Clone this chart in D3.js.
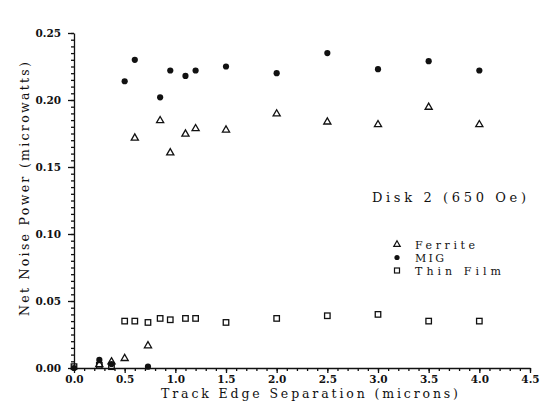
<!DOCTYPE html>
<html>
<head>
<meta charset="utf-8">
<script src="https://cdn.jsdelivr.net/npm/d3@7"></script>
<style>
  body { margin: 0; background: #fff; }
  text { font-family: "DejaVu Serif", "Liberation Serif", serif; fill: #111; }
</style>
</head>
<body>
<div id="chart"></div>
<script>
// DATA
const ferriteX = [0.25, 0.37, 0.5, 0.6, 0.73, 0.85, 0.95, 1.1, 1.2, 1.5, 2.0, 2.5, 3.0, 3.5, 4.0];
const ferriteY = [0.003, 0.005, 0.0075, 0.172, 0.017, 0.185, 0.161, 0.175, 0.179, 0.178, 0.190, 0.184, 0.182, 0.195, 0.182];

const migX = [0, 0.25, 0.37, 0.5, 0.6, 0.73, 0.85, 0.95, 1.1, 1.2, 1.5, 2.0, 2.5, 3.0, 3.5, 4.0];
const migY = [0.000, 0.006, 0.003, 0.214, 0.230, 0.001, 0.202, 0.222, 0.218, 0.222, 0.225, 0.220, 0.235, 0.223, 0.229, 0.222];

const thinX = [0, 0.25, 0.37, 0.5, 0.6, 0.73, 0.85, 0.95, 1.1, 1.2, 1.5, 2.0, 2.5, 3.0, 3.5, 4.0];
const thinY = [0.001, 0.002, 0.001, 0.035, 0.035, 0.034, 0.037, 0.036, 0.037, 0.037, 0.034, 0.037, 0.039, 0.040, 0.035, 0.035];

const xTicks = [0, 0.5, 1.0, 1.5, 2.0, 2.5, 3.0, 3.5, 4.0, 4.5];
const yTicks = [0, 0.05, 0.10, 0.15, 0.20, 0.25];
const legendLabels = ['Ferrite', 'MIG', 'Thin Film'];

// FIGURE DIMENSIONS
const FIGURE = { WIDTH: 546, HEIGHT: 405 };
const PLOT = { LEFT: 74, RIGHT: 530, TOP: 33, BOTTOM: 368 };

const x = d3.scaleLinear().domain([0, 4.5]).range([PLOT.LEFT, PLOT.RIGHT]);
const y = d3.scaleLinear().domain([0, 0.25]).range([PLOT.BOTTOM, PLOT.TOP]);

const svg = d3.select('#chart')
  .append('svg')
    .attr('width', FIGURE.WIDTH)
    .attr('height', FIGURE.HEIGHT);

// minor ticks
const xAxisMinor = d3.axisBottom(x).tickValues(d3.range(0, 4.501, 0.1)).tickSize(3).tickFormat('');
const yAxisMinor = d3.axisLeft(y).tickValues(d3.range(0, 0.2501, 0.005)).tickSize(3).tickFormat('');

svg.append('g')
  .attr('transform', `translate(0, ${PLOT.BOTTOM})`)
  .call(xAxisMinor)
  .call(g => g.select('.domain').remove());
svg.append('g')
  .attr('transform', `translate(${PLOT.LEFT}, 0)`)
  .call(yAxisMinor)
  .call(g => g.select('.domain').remove());

// major ticks
const xAxis = d3.axisBottom(x).tickValues(xTicks).tickSize(5).tickPadding(3).tickSizeOuter(0)
  .tickFormat(d3.format('.1f'));
const yAxis = d3.axisLeft(y).tickValues(yTicks).tickSize(6).tickPadding(7).tickSizeOuter(0)
  .tickFormat(d3.format('.2f'));

svg.append('g')
  .attr('transform', `translate(0, ${PLOT.BOTTOM})`)
  .call(xAxis);
svg.append('g')
  .attr('transform', `translate(${PLOT.LEFT}, 0)`)
  .call(yAxis);

svg.selectAll('.tick text')
  .style('font-family', '"DejaVu Serif", serif')
  .style('font-size', '10.5px')
  .style('font-weight', 'bold');
svg.selectAll('.domain, .tick line')
  .attr('stroke', '#111')
  .attr('stroke-width', 1.3);

// axis titles
svg.append('text')
  .attr('x', 161)
  .attr('y', 398)
  .attr('textLength', 297)
  .attr('lengthAdjust', 'spacing')
  .style('font-size', '12.5px')
  .text('Track Edge Separation (microns)');

svg.append('text')
  .attr('transform', `translate(29, 316) rotate(-90)`)
  .attr('textLength', 254)
  .attr('lengthAdjust', 'spacing')
  .style('font-size', '12.5px')
  .text('Net Noise Power (microwatts)');

// marks
const triangle = d3.symbol().type(d3.symbolTriangle).size(22);

svg.append('g')
  .selectAll('path')
  .data(ferriteX.map((d, i) => [d, ferriteY[i]]))
  .enter()
  .append('path')
    .attr('d', triangle)
    .attr('transform', d => `translate(${x(d[0])}, ${y(d[1]) + 0.5})`)
    .attr('fill', 'none')
    .attr('stroke', '#111')
    .attr('stroke-width', 1.3);

svg.append('g')
  .selectAll('circle')
  .data(migX.map((d, i) => [d, migY[i]]))
  .enter()
  .append('circle')
    .attr('cx', d => x(d[0]))
    .attr('cy', d => y(d[1]))
    .attr('r', 3.1)
    .attr('fill', '#111');

svg.append('g')
  .selectAll('rect')
  .data(thinX.map((d, i) => [d, thinY[i]]))
  .enter()
  .append('rect')
    .attr('x', d => x(d[0]) - 2.75)
    .attr('y', d => y(d[1]) - 2.75)
    .attr('width', 5.5)
    .attr('height', 5.5)
    .attr('fill', 'none')
    .attr('stroke', '#111')
    .attr('stroke-width', 1.3);

// annotation and legend
svg.append('text')
  .attr('x', 372)
  .attr('y', 202)
  .attr('textLength', 154)
  .attr('lengthAdjust', 'spacing')
  .style('font-size', '13px')
  .text('Disk 2 (650 Oe)');

const legendWidths = [60, 29, 86];

const legend = svg.append('g')
  .selectAll('g')
  .data(legendLabels)
  .enter()
  .append('g')
    .attr('transform', (d, i) => `translate(397, ${244.5 + i * 13})`);

legend.append('text')
  .attr('x', 18)
  .attr('y', 4)
  .attr('textLength', (d, i) => legendWidths[i])
  .attr('lengthAdjust', 'spacing')
  .style('font-size', '11px')
  .text(d => d);

legend.filter((d, i) => i === 0).append('path')
  .attr('d', d3.symbol().type(d3.symbolTriangle).size(18))
  .attr('fill', 'none').attr('stroke', '#111').attr('stroke-width', 1.2);
legend.filter((d, i) => i === 1).append('circle')
  .attr('r', 2.6).attr('fill', '#111');
legend.filter((d, i) => i === 2).append('rect')
  .attr('x', -2.5).attr('y', -2.5).attr('width', 5).attr('height', 5)
  .attr('fill', 'none').attr('stroke', '#111').attr('stroke-width', 1.2);
</script>
</body>
</html>
